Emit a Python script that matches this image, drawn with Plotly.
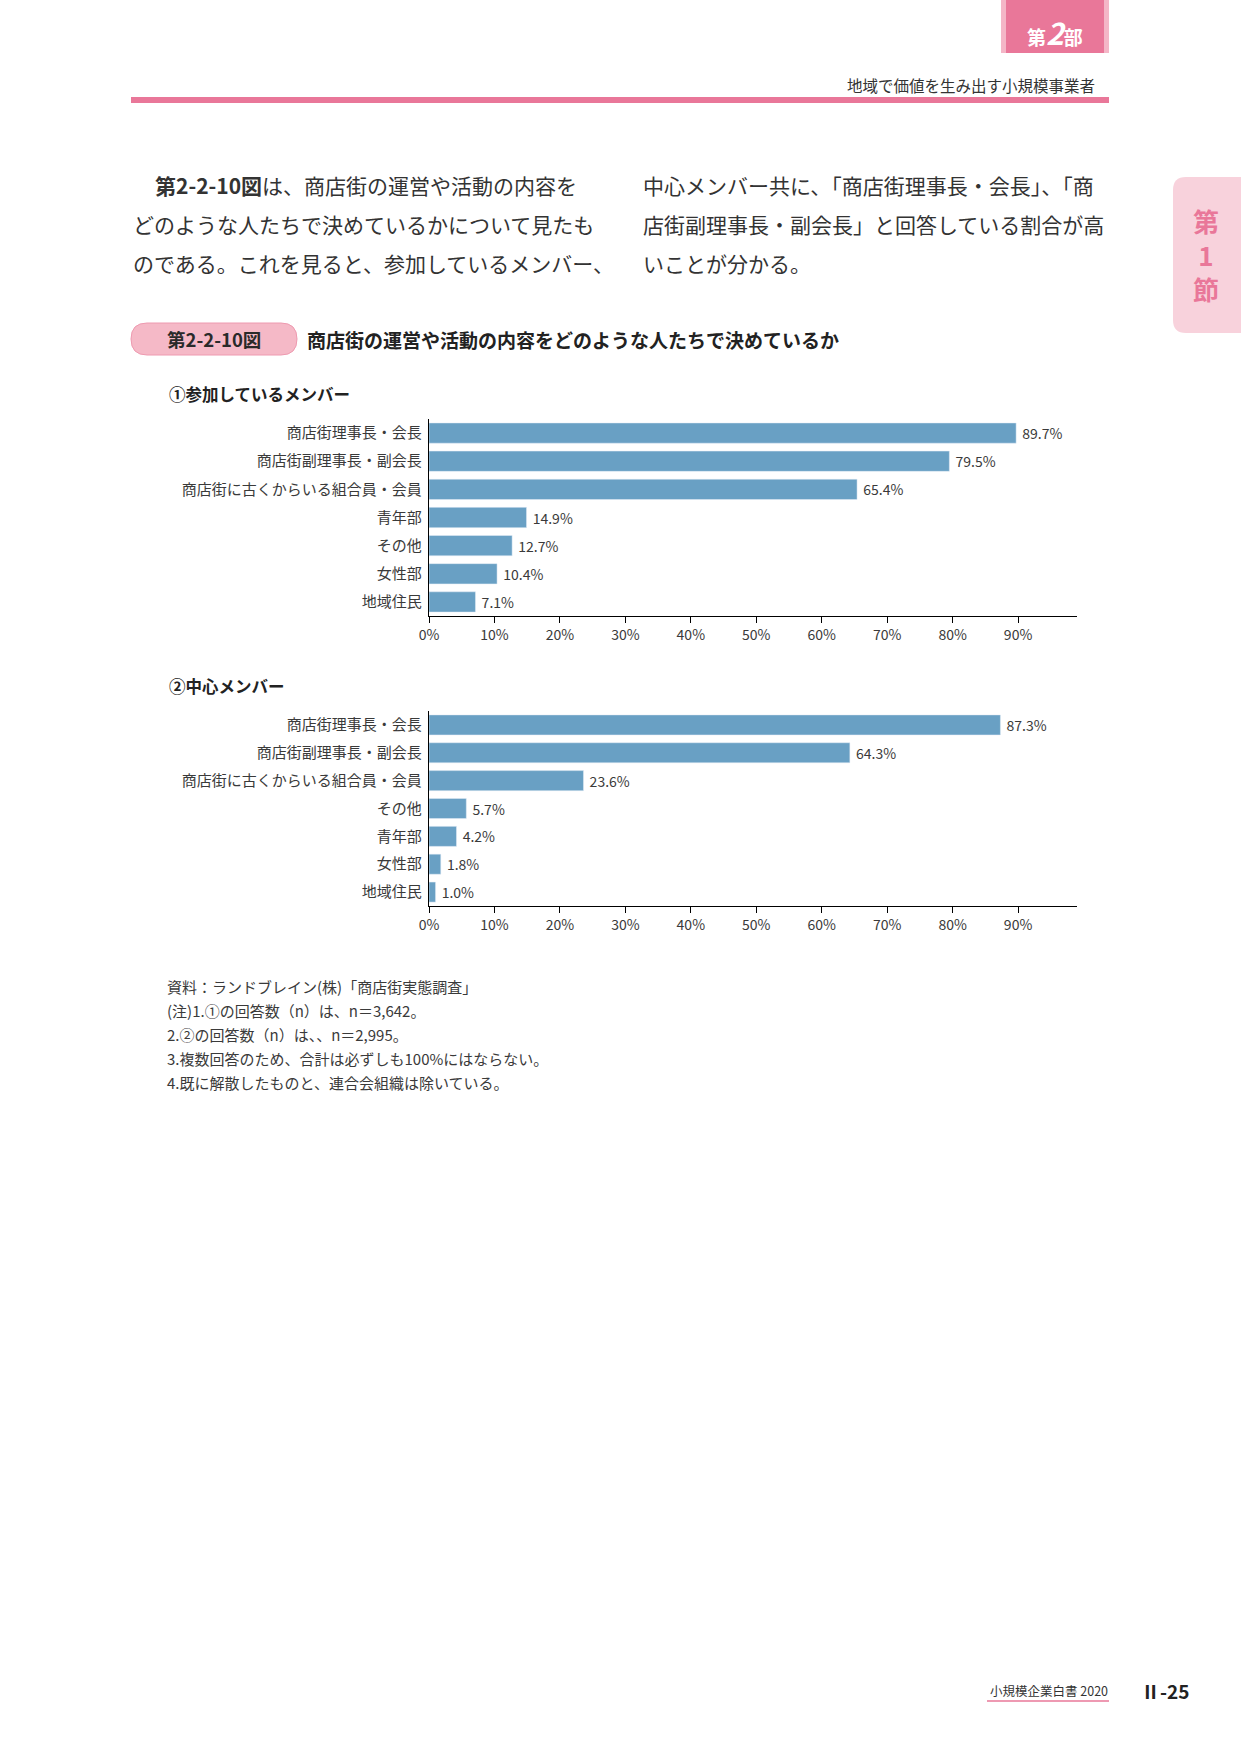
import plotly.graph_objects as go

W, H = 1241, 1754
FONT = "Noto Sans CJK JP"
TXT = "#3a3a3a"
PINK = "#E97799"
LPINK = "#F4B6C7"
BAR = "#69A0C4"

# ---- data ----
cats1 = ["商店街理事長・会長", "商店街副理事長・副会長", "商店街に古くからいる組合員・会員",
         "青年部", "その他", "女性部", "地域住民"]
vals1 = [89.7, 79.5, 65.4, 14.9, 12.7, 10.4, 7.1]

cats2 = ["商店街理事長・会長", "商店街副理事長・副会長", "商店街に古くからいる組合員・会員",
         "その他", "青年部", "女性部", "地域住民"]
vals2 = [87.3, 64.3, 23.6, 5.7, 4.2, 1.8, 1.0]

tick_vals = [0, 10, 20, 30, 40, 50, 60, 70, 80, 90]
tick_text = ["0%", "10%", "20%", "30%", "40%", "50%", "60%", "70%", "80%", "90%"]

section1 = "①参加しているメンバー"
section2 = "②中心メンバー"
fig_no = "第2-2-10図"
fig_title = "商店街の運営や活動の内容をどのような人たちで決めているか"

body_left = ["<b>第2-2-10図</b>は、商店街の運営や活動の内容を",
             "どのような人たちで決めているかについて見たも",
             "のである。これを見ると、参加しているメンバー、"]
body_right = ["中心メンバー共に、「商店街理事長・会長」、「商",
              "店街副理事長・副会長」と回答している割合が高",
              "いことが分かる。"]

notes = ["資料：ランドブレイン(株)「商店街実態調査」",
         "(注)1.①の回答数（n）は、n＝3,642。",
         "2.②の回答数（n）は、、n＝2,995。",
         "3.複数回答のため、合計は必ずしも100%にはならない。",
         "4.既に解散したものと、連合会組織は除いている。"]


def px(x):
    return x / W


def py(y):
    return 1 - y / H


fig = go.Figure()

fig.add_trace(go.Bar(x=vals1, y=cats1, orientation="h", marker_color=BAR, width=0.72,
                     texttemplate=" %{x:.1f}%", textposition="outside", cliponaxis=False,
                     textfont=dict(size=14, color=TXT, family=FONT),
                     xaxis="x", yaxis="y", showlegend=False))
fig.add_trace(go.Bar(x=vals2, y=cats2, orientation="h", marker_color=BAR, width=0.72,
                     texttemplate=" %{x:.1f}%", textposition="outside", cliponaxis=False,
                     textfont=dict(size=14, color=TXT, family=FONT),
                     xaxis="x2", yaxis="y2", showlegend=False))

xcommon = dict(range=[0, 99], tickvals=tick_vals, ticktext=tick_text, ticks="outside",
               ticklen=6, tickcolor="black", showline=True, linecolor="black", linewidth=1.3,
               showgrid=False, zeroline=False, tickfont=dict(size=14, color=TXT, family=FONT),
               domain=[px(429), px(1077)], fixedrange=True, automargin=False)
ycommon = dict(autorange="reversed", showline=True, linecolor="black", linewidth=1.3,
               ticks="outside", ticklen=3, tickcolor="rgba(0,0,0,0)", showgrid=False,
               zeroline=False, tickfont=dict(size=15, color=TXT, family=FONT), fixedrange=True,
               automargin=False)

fig.update_layout(
    width=W, height=H, margin=dict(l=0, r=0, t=0, b=0, pad=0, autoexpand=False),
    paper_bgcolor="white", plot_bgcolor="white", bargap=0.28,
    font=dict(family=FONT, color=TXT),
    xaxis=dict(**xcommon, anchor="y"),
    yaxis=dict(**ycommon, anchor="x", domain=[py(616), py(419)]),
    xaxis2=dict(**xcommon, anchor="y2"),
    yaxis2=dict(**ycommon, anchor="x2", domain=[py(906), py(711)]),
)

shapes = []
ann = []


def text(x, y, s, size, color=TXT, xanchor="left", bold=False, family=FONT):
    if bold:
        s = "<b>" + s + "</b>"
    ann.append(dict(x=px(x), y=py(y), xref="paper", yref="paper", text=s, showarrow=False,
                    xanchor=xanchor, yanchor="middle", font=dict(size=size, color=color, family=family)))


# header tab
shapes.append(dict(type="rect", xref="paper", yref="paper", x0=px(1001), x1=px(1109), y0=py(53), y1=py(0),
                   fillcolor=LPINK, line=dict(width=0), layer="below"))
shapes.append(dict(type="rect", xref="paper", yref="paper", x0=px(1006), x1=px(1104), y0=py(53), y1=py(0),
                   fillcolor=PINK, line=dict(width=0), layer="below"))
text(1055, 32, "<b>第<span style='font-size:30px'><i>2</i></span>部</b>", 19, "white", "center")
text(1097, 85, "地域で価値を生み出す小規模事業者", 15.5, "#333333", "right")
shapes.append(dict(type="rect", xref="paper", yref="paper", x0=px(131), x1=px(1109), y0=py(103), y1=py(97),
                   fillcolor=PINK, line=dict(width=0), layer="below"))

# right side tab (rounded left corners)
x0, x1, y0, y1, r = 1173, 1245, 177, 333, 13
path = (f"M {px(x1)},{py(y0)} L {px(x0 + r)},{py(y0)} Q {px(x0)},{py(y0)} {px(x0)},{py(y0 + r)} "
        f"L {px(x0)},{py(y1 - r)} Q {px(x0)},{py(y1)} {px(x0 + r)},{py(y1)} L {px(x1)},{py(y1)} Z")
shapes.append(dict(type="path", xref="paper", yref="paper", path=path, fillcolor="#F8D2DC",
                   line=dict(width=0), layer="below"))
text(1206, 254, "第<br>1<br>節", 26, PINK, "center", True)

# body text
for i, s in enumerate(body_left):
    text(153 if i == 0 else 131, 185 + 39 * i, s, 21, "#333333")
for i, s in enumerate(body_right):
    text(641, 185 + 39 * i, s, 21, "#333333")

# figure title pill
x0, x1, y0, y1 = 131, 297, 323, 355
r = (y1 - y0) / 2
path = (f"M {px(x0 + r)},{py(y0)} L {px(x1 - r)},{py(y0)} Q {px(x1)},{py(y0)} {px(x1)},{py(y0 + r)} "
        f"Q {px(x1)},{py(y1)} {px(x1 - r)},{py(y1)} L {px(x0 + r)},{py(y1)} "
        f"Q {px(x0)},{py(y1)} {px(x0)},{py(y0 + r)} Q {px(x0)},{py(y0)} {px(x0 + r)},{py(y0)} Z")
shapes.append(dict(type="path", xref="paper", yref="paper", path=path, fillcolor="#F5B9C7",
                   line=dict(width=1, color="#EE9AB0"), layer="below"))
text(214, 339, fig_no, 18.5, "#2a2a2a", "center", True)
text(305, 339, fig_title, 19, "#222222", "left", True)

# section headings
text(167, 394, section1, 16.5, "#222222", "left", True)
text(167, 686, section2, 16.5, "#222222", "left", True)

# notes
for i, s in enumerate(notes):
    text(165, 986 + 24.2 * i, s, 15, TXT)

# footer
text(988, 1690, "小規模企業白書 2020", 12.5, "#333333", "left")
shapes.append(dict(type="line", xref="paper", yref="paper", x0=px(987), x1=px(1109), y0=py(1701), y1=py(1701),
                   line=dict(color=PINK, width=1.5)))
text(1139, 1690, "Ⅱ-25", 19, "#222222", "left", True)

fig.update_layout(shapes=shapes, annotations=ann)

fig.write_html("out.html", config={"displayModeBar": False},
               post_script="document.body.style.margin='0';document.body.style.overflow='hidden';")
